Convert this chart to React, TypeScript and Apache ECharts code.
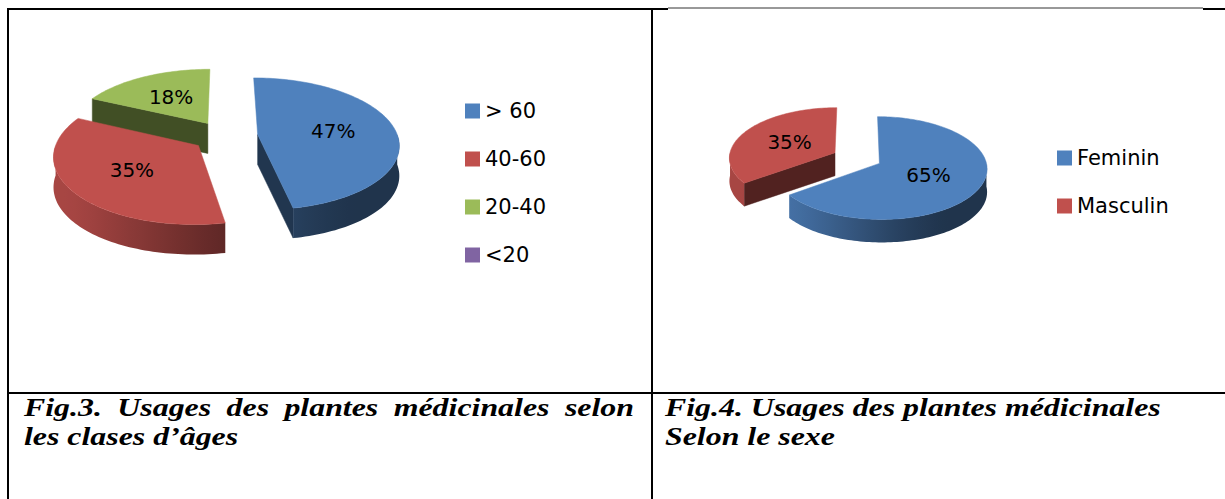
import React, { useEffect, useRef } from 'react';
import * as echarts from 'echarts';

// ---------- data ----------
const ageCategories = ['> 60', '40-60', '20-40', '<20'];
const ageValues = [47, 35, 18, 0];
const ageColors = ['#4F81BD', '#C0504D', '#9BBB59', '#8064A2'];

const sexCategories = ['Feminin', 'Masculin'];
const sexValues = [65, 35];
const sexColors = ['#4F81BD', '#C0504D'];

const captionLeftLine1 = ['Fig.3.', 'Usages', 'des', 'plantes', 'médicinales', 'selon'];
const captionLeftLine2 = 'les clases d’âges';
const captionRightLine1 = 'Fig.4. Usages des plantes médicinales';
const captionRightLine2 = 'Selon le sexe';

// ---------- geometry (layout only) ----------
type Geo = { cx: number; cy: number; rx: number; ry: number; p: number; e: number; depth: number; labelR: number };
const geoAge: Geo = { cx: 225, cy: 136, rx: 140, ry: 65, p: 0.14, e: 0.235, depth: 30, labelR: 0.55 };
const geoSex: Geo = { cx: 857, cy: 158, rx: 106, ry: 50, p: 0.09, e: 0.235, depth: 23, labelR: 0.5 };

const LABEL_FONT = 'DejaVu Sans';
const CAPTION_FONT = 'Liberation Serif';
const CAPTION_SIZE = 26;

const rad = (d: number) => (d * Math.PI) / 180;

function shadeHex(hex: string, f: number) {
  const n = parseInt(hex.slice(1), 16);
  const r = Math.round(((n >> 16) & 255) * f);
  const g = Math.round(((n >> 8) & 255) * f);
  const b = Math.round((n & 255) * f);
  return `rgb(${r},${g},${b})`;
}

function wallFactor(th: number) {
  let s = (th - 140) / 100;
  s = Math.max(0, Math.min(1, s));
  s = s * s * (3 - 2 * s);
  return 0.4 + 0.47 * s;
}

function buildSlices(values: number[]) {
  const total = values.reduce((a, b) => a + b, 0);
  let acc = 0;
  return values.map((v) => {
    const a = (acc / total) * 360;
    acc += v;
    const b = (acc / total) * 360;
    return { a, b, m: (a + b) / 2, v };
  });
}

function makeRenderer(values: number[], colors: string[], geo: Geo, k: number) {
  return (params: any, api: any) => {
    const value = api.value(0);
    const slices = buildSlices(values);
    const s = slices[k];
    if (!(value > 0)) return { type: 'group', children: [] };
    const order = slices
      .map((sl, i) => ({ i, depth: -Math.cos(rad(sl.m)) }))
      .sort((x, y) => x.depth - y.depth)
      .map((o) => o.i);
    const rank = order.indexOf(k);
    const P = (u: number, v: number, dz = 0) => {
      const d = 1 - geo.p * v;
      return [geo.cx + (geo.rx * u) / d, geo.cy + (geo.ry * v) / d + dz];
    };
    const ou = geo.e * Math.sin(rad(s.m));
    const ov = -geo.e * Math.cos(rad(s.m));
    const rim = (th: number, dz: number, r = 1) => P(ou + r * Math.sin(rad(th)), ov - r * Math.cos(rad(th)), dz);
    const D = geo.depth;
    const base = colors[k];
    const children: any[] = [];

    const addRadial = (alpha: number) => {
      const col = shadeHex(base, 0.42);
      children.push({
        type: 'polygon',
        z2: rank * 10 + 1,
        shape: { points: [P(ou, ov, 0), rim(alpha, 0), rim(alpha, D), P(ou, ov, D)] },
        style: { fill: col, stroke: col, lineWidth: 0.5 },
      });
    };
    if (Math.sin(rad(s.a)) < -0.01) addRadial(s.a);
    if (Math.sin(rad(s.b)) > 0.01) addRadial(s.b);

    // outer wall (front half) as one polygon with horizontal gradient
    const lo = Math.max(s.a, 90);
    const hi = Math.min(s.b, 270);
    if (hi > lo) {
      const n = Math.max(2, Math.ceil((hi - lo) / 1.5));
      const top: number[][] = [];
      const bot: number[][] = [];
      const thetas: number[] = [];
      for (let j = 0; j <= n; j++) {
        const t = lo + ((hi - lo) * j) / n;
        thetas.push(t);
        top.push(rim(t, 0));
        bot.push(rim(t, D));
      }
      const xRight = top[0][0];
      const xLeft = top[n][0];
      const span = Math.max(1, xRight - xLeft);
      const stops: any[] = [];
      for (let j = n; j >= 0; j -= 3) {
        stops.push({ offset: Math.max(0, Math.min(1, (top[j][0] - xLeft) / span)), color: shadeHex(base, wallFactor(thetas[j])) });
      }
      stops.push({ offset: 1, color: shadeHex(base, wallFactor(thetas[0])) });
      children.push({
        type: 'polygon',
        z2: rank * 10 + 2,
        shape: { points: top.concat(bot.slice().reverse()) },
        style: {
          fill: { type: 'linear', x: xLeft, y: 0, x2: xRight, y2: 0, global: true, colorStops: stops },
          stroke: 'none',
        },
      });
    }

    // top face
    const pts: number[][] = [P(ou, ov, 0)];
    const steps = Math.max(2, Math.ceil((s.b - s.a) / 1.5));
    for (let j = 0; j <= steps; j++) {
      pts.push(rim(s.a + ((s.b - s.a) * j) / steps, 0));
    }
    children.push({
      type: 'polygon',
      z2: rank * 10 + 5,
      shape: { points: pts },
      style: { fill: base, stroke: base, lineWidth: 0.5 },
    });

    const lp = rim(s.m, 0, geo.labelR);
    children.push({
      type: 'text',
      z2: 200,
      x: lp[0],
      y: lp[1],
      style: {
        text: `${value}%`,
        align: 'center',
        verticalAlign: 'middle',
        fontFamily: LABEL_FONT,
        fontSize: 20,
        fill: '#000',
      },
    });
    return { type: 'group', children };
  };
}

function pieSeries(cats: string[], values: number[], colors: string[], geo: Geo) {
  return cats.map((name, k) => ({
    type: 'custom',
    name,
    coordinateSystem: 'none',
    silent: true,
    itemStyle: { color: colors[k] },
    data: [[values[k]]],
    renderItem: makeRenderer(values, colors, geo, k),
  }));
}

function measure(text: string, font: string) {
  const c = document.createElement('canvas').getContext('2d')!;
  c.font = font;
  return c.measureText(text).width;
}

export default function App() {
  const ref = useRef<HTMLDivElement>(null);
  useEffect(() => {
    const chart = echarts.init(ref.current!, null, { renderer: 'svg' });
    const capFont = `italic bold ${CAPTION_SIZE}px '${CAPTION_FONT}'`;
    const capStyle = {
      fontFamily: CAPTION_FONT,
      fontSize: CAPTION_SIZE,
      fontWeight: 'bold',
      fontStyle: 'italic',
      fill: '#000',
      verticalAlign: 'middle',
      align: 'left',
    };
    // horizontal stretch so the right caption's first line spans x=665..1161
    const sx = 496 / measure(captionRightLine1, capFont);
    // justify left caption line 1 between x=24 and x=634
    const widths = captionLeftLine1.map((w) => measure(w, capFont) * sx);
    const sum = widths.reduce((a, b) => a + b, 0);
    const gap = (634 - 24 - sum) / (captionLeftLine1.length - 1);
    let xPos = 24;
    const wordEls = captionLeftLine1.map((w, i) => {
      const el = { type: 'text', x: xPos, y: 407, scaleX: sx, style: { ...capStyle, text: w } };
      xPos += widths[i] + gap;
      return el;
    });

    const line = (x1: number, y1: number, x2: number, y2: number, w: number, c = '#000') => ({
      type: 'line',
      shape: { x1, y1, x2, y2 },
      style: { stroke: c, lineWidth: w },
    });

    const legendBase = {
      orient: 'vertical',
      icon: 'rect',
      itemWidth: 15,
      itemHeight: 15,
      itemGap: 26,
      padding: 0,
      selectedMode: false,
      textStyle: { fontFamily: LABEL_FONT, fontSize: 21, color: '#000', lineHeight: 22 },
    };

    chart.setOption({
      animation: false,
      backgroundColor: '#fff',
      legend: [
        { ...legendBase, data: ageCategories, left: 465, top: 100 },
        { ...legendBase, data: sexCategories, left: 1057, top: 147 },
      ],
      series: [
        ...pieSeries(ageCategories, ageValues, ageColors, geoAge),
        ...pieSeries(sexCategories, sexValues, sexColors, geoSex),
      ],
      graphic: [
        line(8, 8, 8, 499, 2),
        line(7, 9, 668, 9, 2),
        line(668, 8, 1203, 8, 1, '#333'),
        line(1203, 9, 1225, 9, 2),
        line(652, 8, 652, 499, 2),
        line(7, 393, 1225, 393, 2),
        ...wordEls,
        { type: 'text', x: 24, y: 436, scaleX: sx, style: { ...capStyle, text: captionLeftLine2 } },
        { type: 'text', x: 665, y: 407, scaleX: sx, style: { ...capStyle, text: captionRightLine1 } },
        { type: 'text', x: 665, y: 436, scaleX: sx, style: { ...capStyle, text: captionRightLine2 } },
      ],
    });
    return () => chart.dispose();
  }, []);
  return (
    <div
      ref={ref}
      style={{ position: 'absolute', left: 0, top: 0, width: 1225, height: 499, background: '#fff' }}
    />
  );
}
